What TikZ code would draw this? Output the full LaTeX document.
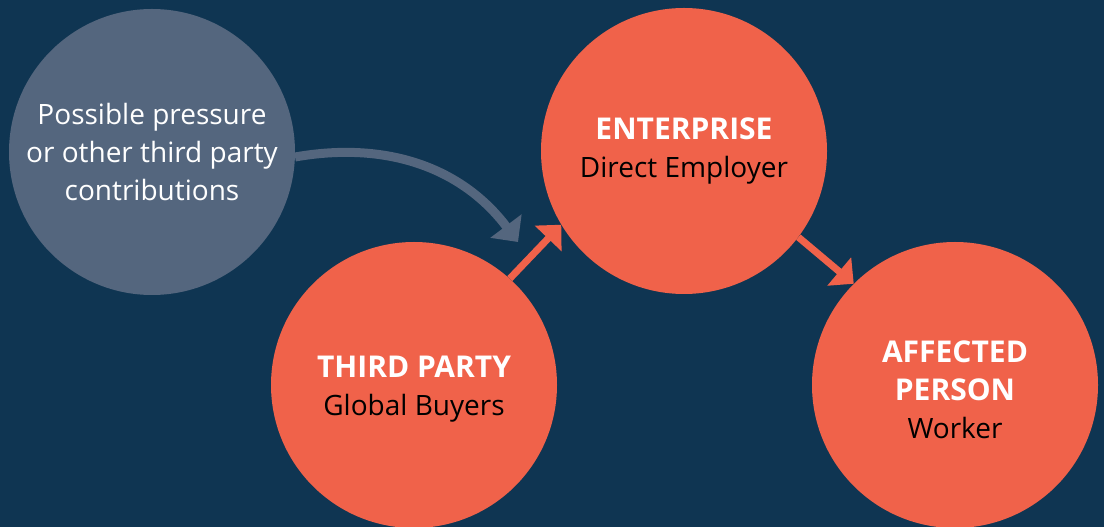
\documentclass[tikz,border=0pt]{standalone}
\usepackage{fontspec}
\setmainfont{Open Sans}
\usetikzlibrary{arrows.meta}
\definecolor{navy}{RGB}{15,53,82}
\definecolor{coral}{RGB}{240,98,74}
\definecolor{slate}{RGB}{84,102,126}

\begin{document}
\begin{tikzpicture}[x=1pt,y=1pt,
  bubble/.style={circle,minimum size=286pt,inner sep=0pt,align=center,
    font=\fontsize{28}{38}\selectfont},
  link/.style={coral,line width=7pt,-{Triangle[length=19pt,width=36pt]}}]
\fill [navy] (0,0) rectangle (1104,527);
\useasboundingbox (0,0) rectangle (1104,527);
\node [bubble,fill=slate,text=white] (pressure) at (152,375) {Possible pressure\\or other third party\\contributions};
\node [bubble,fill=coral,text=white] (enterprise) at (684,376) {{\fontsize{30}{38}\selectfont\bfseries ENTERPRISE}\\\textcolor{black}{Direct Employer}};
\node [bubble,fill=coral,text=white,text height=68pt] (buyers) at (414,142) {{\fontsize{30}{38}\selectfont\bfseries THIRD PARTY}\\\textcolor{black}{Global Buyers}};
\node [bubble,fill=coral,text=white,text height=108pt] (worker) at (955,142) {{\fontsize{30}{38}\selectfont\bfseries AFFECTED}\\{\fontsize{30}{38}\selectfont\bfseries PERSON}\\\textcolor{black}{Worker}};
\coordinate (tip) at (518,285);
\draw [slate,line width=9pt,-{Triangle[length=20pt,width=38pt]}] (pressure.-2) to[out=10,in=127] (tip);
\draw [link] (buyers.48) -- (enterprise.211);
\draw [link] (enterprise.-37) -- (worker.135);
\end{tikzpicture}
\end{document}
